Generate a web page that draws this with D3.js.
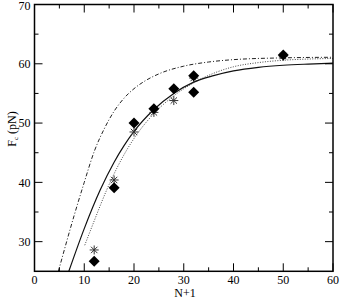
<!DOCTYPE html>
<html>
<head>
<meta charset="utf-8">
<script src="https://cdn.jsdelivr.net/npm/d3@7"></script>
<style>
  body { margin: 0; background: #fff; }
  svg { display: block; }
  text { font-family: "Liberation Serif", "DejaVu Serif", serif; }
</style>
</head>
<body>
<div id="container"></div>
<script>
// measured points (N+1, Fc)
let diamond_n = [12, 16, 20, 24, 28, 32, 32, 50];
let diamond_f = [26.7, 39.1, 50.0, 52.4, 55.8, 58.0, 55.2, 61.5];

let star_n = [12, 16, 20, 24, 28, 32, 50];
let star_f = [28.6, 40.4, 48.5, 51.8, 53.8, 57.6, 61.3];

// model curves
let solid_n = [6.9, 10, 13.2, 16, 18, 20, 24, 28, 32, 36, 40, 45, 50, 55, 60];
let solid_f = [25, 32.2, 38.7, 43.4, 46.2, 48.6, 52.3, 55.0, 56.9, 58.0, 58.8, 59.4, 59.75, 59.95, 60.1];

let dotted_n = [10.1, 12, 14.5, 16.5, 18.5, 20, 24, 28, 32, 36, 40, 45, 50, 55, 60];
let dotted_f = [29.4, 33.5, 38.7, 42.3, 45.4, 47.4, 51.6, 54.6, 56.8, 58.4, 59.5, 60.2, 60.6, 60.8, 60.9];

let dashdot_n = [4.8, 8, 10, 12, 14, 16, 18, 20, 22, 25, 30, 35, 40, 50, 60];
let dashdot_f = [25, 34.5, 40.0, 45.2, 49.0, 52.0, 54.2, 55.8, 57.0, 58.3, 59.6, 60.3, 60.7, 61.0, 61.1];

let x_ticks = [0, 10, 20, 30, 40, 50, 60];
let x_minor = [5, 15, 25, 35, 45, 55];
let y_ticks = [30, 40, 50, 60, 70];
let y_minor = [35, 45, 55, 65];

let width = 340;
let height = 298;

let x = d3.scaleLinear().domain([0, 60]).range([34.5, 333]);
let y = d3.scaleLinear().domain([25, 70]).range([271.3, 4.5]);

let svg = d3.select("#container")
  .append("svg")
  .attr("width", width)
  .attr("height", height);

svg.append("clipPath")
  .attr("id", "plot-clip")
  .append("rect")
  .attr("x", x(0))
  .attr("y", y(70))
  .attr("width", x(60) - x(0))
  .attr("height", y(25) - y(70));

function zip(a, b) {
  return a.map(function (d, i) { return [d, b[i]]; });
}

let line = d3.line()
  .x(function (d) { return x(d[0]); })
  .y(function (d) { return y(d[1]); })
  .curve(d3.curveMonotoneX);

let g = svg.append("g").attr("clip-path", "url(#plot-clip)");

g.append("path")
  .datum(zip(dashdot_n, dashdot_f))
  .attr("d", line)
  .attr("fill", "none")
  .attr("stroke", "#222")
  .attr("stroke-width", 1)
  .attr("stroke-dasharray", "4,2,1,2");

g.append("path")
  .datum(zip(dotted_n, dotted_f))
  .attr("d", line)
  .attr("fill", "none")
  .attr("stroke", "#444")
  .attr("stroke-width", 1)
  .attr("stroke-dasharray", "1,1.5");

g.append("path")
  .datum(zip(solid_n, solid_f))
  .attr("d", line)
  .attr("fill", "none")
  .attr("stroke", "#111")
  .attr("stroke-width", 1.2);

// asterisks
let stars = svg.selectAll(".star")
  .data(zip(star_n, star_f))
  .enter()
  .append("g")
  .attr("class", "star")
  .attr("transform", function (d) { return "translate(" + x(d[0]) + "," + y(d[1]) + ")"; });

stars.append("path")
  .attr("d", "M0,-4.5V4.5M-4.5,0H4.5M-3.2,-3.2L3.2,3.2M-3.2,3.2L3.2,-3.2")
  .attr("stroke", "#333")
  .attr("stroke-width", 1);

// diamonds
svg.selectAll(".diamond")
  .data(zip(diamond_n, diamond_f))
  .enter()
  .append("path")
  .attr("class", "diamond")
  .attr("d", "M0,-5.5L5.5,0L0,5.5L-5.5,0Z")
  .attr("transform", function (d) { return "translate(" + x(d[0]) + "," + y(d[1]) + ")"; })
  .attr("fill", "#000");

// frame
svg.append("rect")
  .attr("x", x(0))
  .attr("y", y(70))
  .attr("width", x(60) - x(0))
  .attr("height", y(25) - y(70))
  .attr("fill", "none")
  .attr("stroke", "#000")
  .attr("stroke-width", 1.5);

// ticks, all pointing inward
let ticks = svg.append("g").attr("stroke", "#000").attr("stroke-width", 1);

x_ticks.concat(x_minor).forEach(function (t) {
  let len = x_ticks.indexOf(t) >= 0 ? 8 : 4;
  ticks.append("line").attr("x1", x(t)).attr("x2", x(t)).attr("y1", y(25)).attr("y2", y(25) - len);
  ticks.append("line").attr("x1", x(t)).attr("x2", x(t)).attr("y1", y(70)).attr("y2", y(70) + len);
});

y_ticks.concat(y_minor).forEach(function (t) {
  let len = y_ticks.indexOf(t) >= 0 ? 8 : 4;
  ticks.append("line").attr("y1", y(t)).attr("y2", y(t)).attr("x1", x(0)).attr("x2", x(0) + len);
  ticks.append("line").attr("y1", y(t)).attr("y2", y(t)).attr("x1", x(60)).attr("x2", x(60) - len);
});

svg.selectAll(".xlabel")
  .data(x_ticks)
  .enter()
  .append("text")
  .attr("x", function (d) { return x(d); })
  .attr("y", 284)
  .attr("text-anchor", "middle")
  .attr("font-size", 12)
  .text(function (d) { return d; });

svg.selectAll(".ylabel")
  .data(y_ticks)
  .enter()
  .append("text")
  .attr("x", 30.5)
  .attr("y", function (d) { return Math.max(y(d) + 4.4, 10); })
  .attr("text-anchor", "end")
  .attr("font-size", 12)
  .text(function (d) { return d; });

svg.append("text")
  .attr("x", 185)
  .attr("y", 296.5)
  .attr("text-anchor", "middle")
  .attr("font-size", 12)
  .text("N+1");

let ylab = svg.append("text")
  .attr("transform", "translate(16,129) rotate(-90)")
  .attr("text-anchor", "middle")
  .attr("font-size", 12);
ylab.append("tspan").text("F");
ylab.append("tspan").attr("font-size", 7).attr("dy", 2).text("c");
ylab.append("tspan").attr("dy", -2).text(" (pN)");
</script>
</body>
</html>
